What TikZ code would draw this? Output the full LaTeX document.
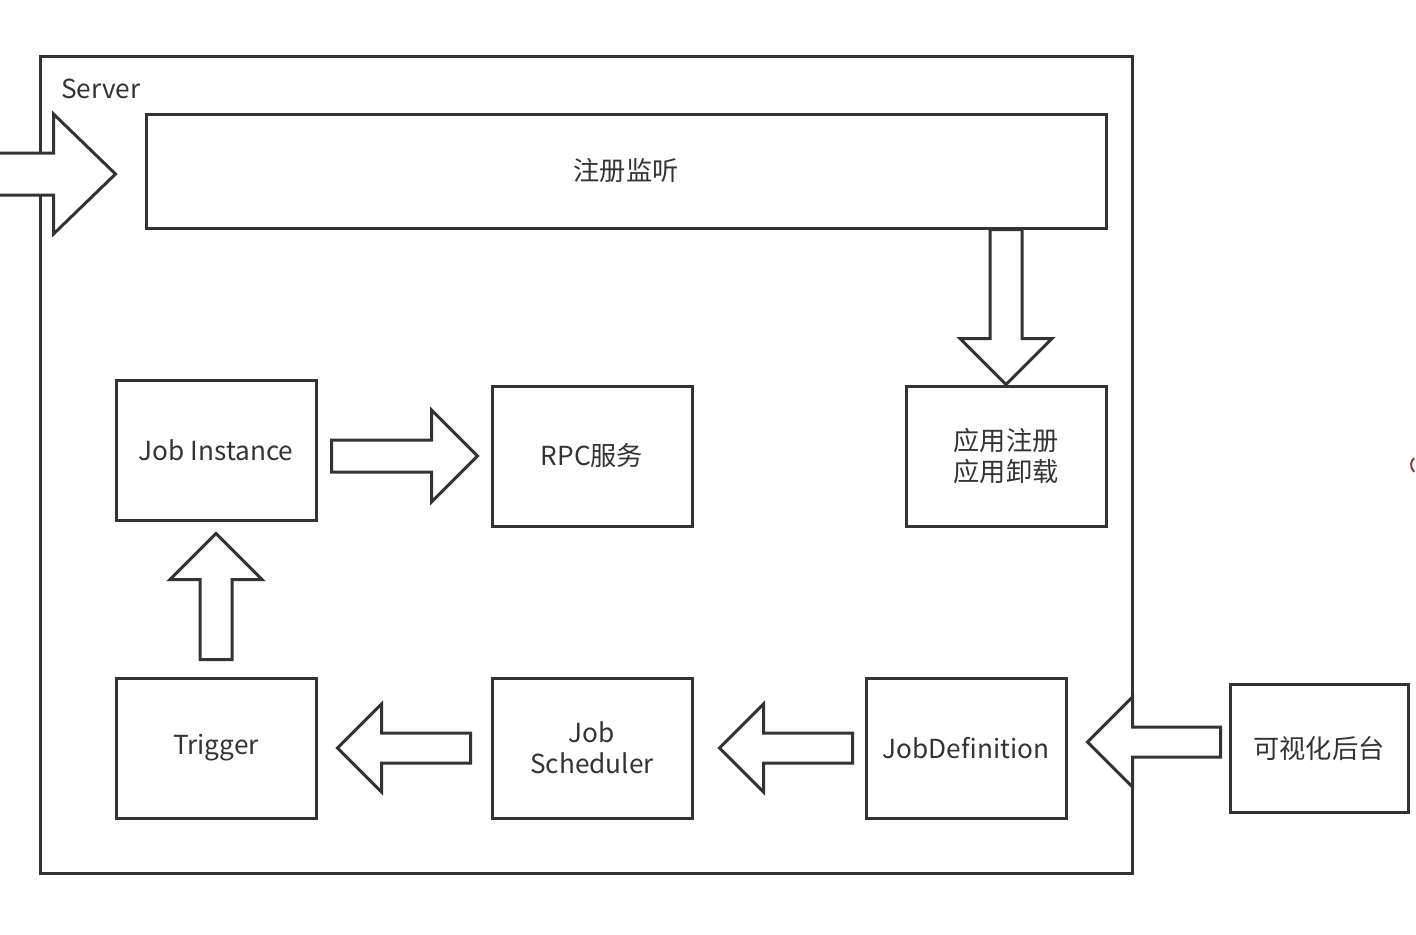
\documentclass[tikz,border=0pt]{standalone}
\usepackage{fontspec}
\setmainfont{Noto Sans CJK SC}
\usetikzlibrary{calc}
\definecolor{ink}{HTML}{333333}
\definecolor{markred}{HTML}{8B3A3A}
\tikzset{
  box/.style={rectangle,draw=ink,line width=1.5pt,minimum width=100pt,
    minimum height=70pt,align=center,inner sep=2pt,text=ink,
    font=\fontsize{13.1}{15.5}\selectfont},
  fatarr/.style={draw=ink,fill=white,line width=1.5pt,line join=miter},
  lbl/.style={text=ink,font=\fontsize{13.1}{15.5}\selectfont},
}
% tail, tip, half shaft, half head, head length
\newcommand{\fatarrow}[5]{%
  \coordinate (fa-b) at ($(#2)!#5!(#1)$);
  \draw[fatarr] ($(#1)!#3!90:(#2)$) -- ($(fa-b)!#3!90:(#2)$)
    -- ($(fa-b)!#4!90:(#2)$) -- (#2) -- ($(fa-b)!#4!-90:(#2)$)
    -- ($(fa-b)!#3!-90:(#2)$) -- ($(#1)!#3!-90:(#2)$) -- cycle;
}

\begin{document}
\begin{tikzpicture}[x=0.5pt,y=-0.5pt]
  \useasboundingbox (0,0) rectangle (1416,934);
  % outer frame
  \node[box,minimum width=546pt,minimum height=408.5pt] (server) at (586,464.5) {};
  \node[lbl,anchor=west] (srvlbl) at (54,89) {Server};
  % blocks
  \node[box,minimum width=480pt,minimum height=57pt] (reg) at (626,171) {注册监听};
  \node[box] (app) at (1006,456) {应用注册\\应用卸载};
  \node[box] (inst) at (216,450) {Job Instance};
  \node[box] (rpc) at (592,456) {RPC服务};
  \node[box] (trig) at (216,748) {Trigger};
  \node[box] (sched) at (592,748) {Job\\Scheduler};
  \node[box] (jdef) at (966,748) {JobDefinition};
  \node[box,minimum width=89pt,minimum height=64pt] (vis) at (1319,748) {可视化后台};
  % arrow ends
  \coordinate (in0) at (-4,174);
  \coordinate (in1) at ($(reg.west)+(-29,3)$);
  \coordinate (d0) at (app.north |- reg.south);
  \coordinate (r0) at ($(inst.east)+(14,6)$);
  \coordinate (r1) at ($(rpc.west)+(-13,0)$);
  \coordinate (u0) at ($(trig.north)+(0,-17)$);
  \coordinate (u1) at ($(inst.south)+(0,12)$);
  \coordinate (t0) at ($(sched.west)+(-20,0)$);
  \coordinate (t1) at ($(trig.east)+(20,0)$);
  \coordinate (s0) at ($(jdef.west)+(-12,0)$);
  \coordinate (s1) at ($(sched.east)+(26,0)$);
  \coordinate (j0) at ($(vis.west)+(-8,-6)$);
  \coordinate (j1) at ($(jdef.east)+(20,-6)$);
  % block arrows
  \fatarrow{in0}{in1}{10.5pt}{30pt}{31pt}
  \fatarrow{d0}{app.north}{8pt}{23pt}{23pt}
  \fatarrow{r0}{r1}{8pt}{23pt}{23pt}
  \fatarrow{u0}{u1}{8pt}{23pt}{23pt}
  \fatarrow{t0}{t1}{7.5pt}{22pt}{22pt}
  \fatarrow{s0}{s1}{7.5pt}{22pt}{22pt}
  \fatarrow{j0}{j1}{7.5pt}{22.5pt}{22.5pt}
  % stray mark at the edge
  \draw[markred,line width=1pt] (1420,465) ++(130:9) arc (130:230:9);
\end{tikzpicture}
\end{document}
